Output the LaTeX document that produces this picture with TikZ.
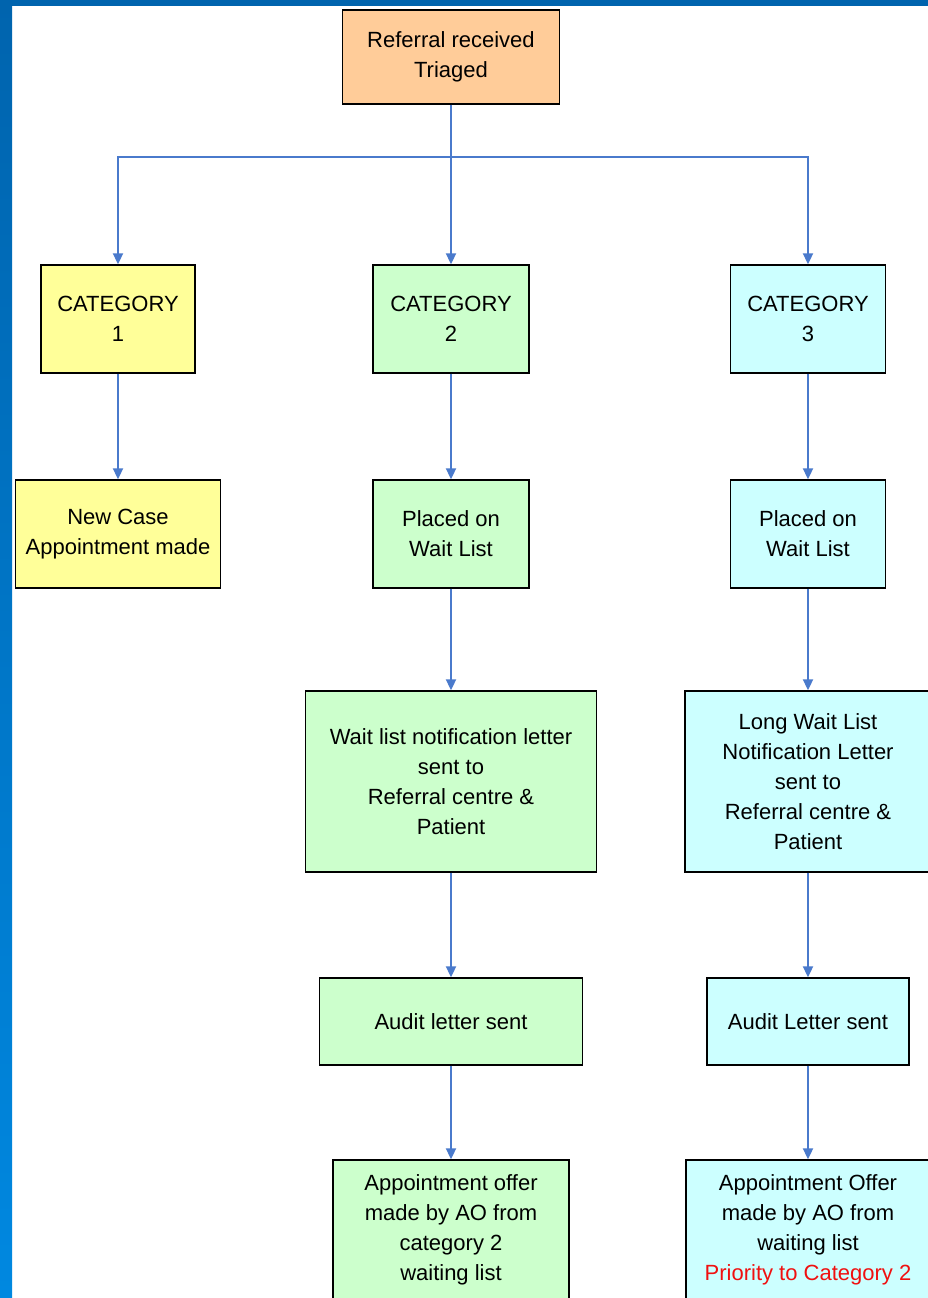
\documentclass[tikz,border=0pt]{standalone}
\usepackage{fontspec}
\setmainfont{Liberation Sans}
\usetikzlibrary{arrows.meta}

\definecolor{peach}{HTML}{FFCC99}
\definecolor{lemon}{HTML}{FFFF99}
\definecolor{mint}{HTML}{CCFFCC}
\definecolor{aqua}{HTML}{CCFFFF}
\definecolor{linkblue}{HTML}{4A7ACC}
\definecolor{prio}{HTML}{F01010}
\definecolor{frametop}{HTML}{0064AE}
\definecolor{framelow}{HTML}{0088E0}

\begin{document}
\begin{tikzpicture}[x=1pt, y=-1pt,
	box/.style={rectangle, draw=black, line width=1.4pt, align=center, inner sep=0pt, font=\fontsize{22}{30}\selectfont},
	link/.style={draw=linkblue, line width=2pt, -{Triangle[length=11pt,width=10pt]}}]
			\useasboundingbox (0,0) rectangle (928,1298);
			\fill[white] (0,0) rectangle (928,1298);
			\shade[top color=frametop, bottom color=framelow] (0,0) rectangle (12,1298);
			\fill[frametop] (0,0) rectangle (928,6);
			
			\node[box, fill=peach, minimum width=217pt, minimum height=94pt] (ref) at (451,57) {Referral received\\Triaged};
			
			\node[box, fill=lemon, minimum width=154pt, minimum height=108pt] (cat1) at (118,319) {CATEGORY\\1};
			\node[box, fill=mint, minimum width=156pt, minimum height=108pt] (cat2) at (451,319) {CATEGORY\\2};
			\node[box, fill=aqua, minimum width=155pt, minimum height=108pt] (cat3) at (808,319) {CATEGORY\\3};
			
			\node[box, fill=lemon, minimum width=205pt, minimum height=108pt] (newcase) at (118,534) {New Case\\Appointment made};
			\node[box, fill=mint, minimum width=156pt, minimum height=108pt] (wait2) at (451,534) {Placed on\\Wait List};
			\node[box, fill=aqua, minimum width=155pt, minimum height=108pt] (wait3) at (808,534) {Placed on\\Wait List};
			
			\node[box, fill=mint, minimum width=291pt, minimum height=181pt] (note2) at (451,781.5) {Wait list notification letter\\sent to\\Referral centre \&\\Patient};
			\node[box, fill=aqua, minimum width=246pt, minimum height=181pt] (note3) at (808,781.5) {Long Wait List\\Notification Letter\\sent to\\Referral centre \&\\Patient};
			
			\node[box, fill=mint, minimum width=263pt, minimum height=87pt] (audit2) at (451,1021.5) {Audit letter sent};
			\node[box, fill=aqua, minimum width=202pt, minimum height=87pt] (audit3) at (808,1021.5) {Audit Letter sent};
			
			\node[box, fill=mint, minimum width=236pt, minimum height=140pt] (offer2) at (451,1230) {Appointment offer\\made by AO from\\category 2\\waiting list};
			\node[box, fill=aqua, minimum width=244pt, minimum height=140pt] (offer3) at (808,1230) {Appointment Offer\\made by AO from\\waiting list\\{\color{prio}Priority to Category 2}};
			
			\coordinate (split) at (451,157);
			\path[link] (ref) -- (cat2);
			\path[link] (split) -| (cat1);
			\path[link] (split) -| (cat3);
			\path[link] (cat1) -- (newcase);
			\path[link] (cat2) -- (wait2);
			\path[link] (cat3) -- (wait3);
			\path[link] (wait2) -- (note2);
			\path[link] (wait3) -- (note3);
			\path[link] (note2) -- (audit2);
			\path[link] (note3) -- (audit3);
			\path[link] (audit2) -- (offer2);
			\path[link] (audit3) -- (offer3);
\end{tikzpicture}
\end{document}
